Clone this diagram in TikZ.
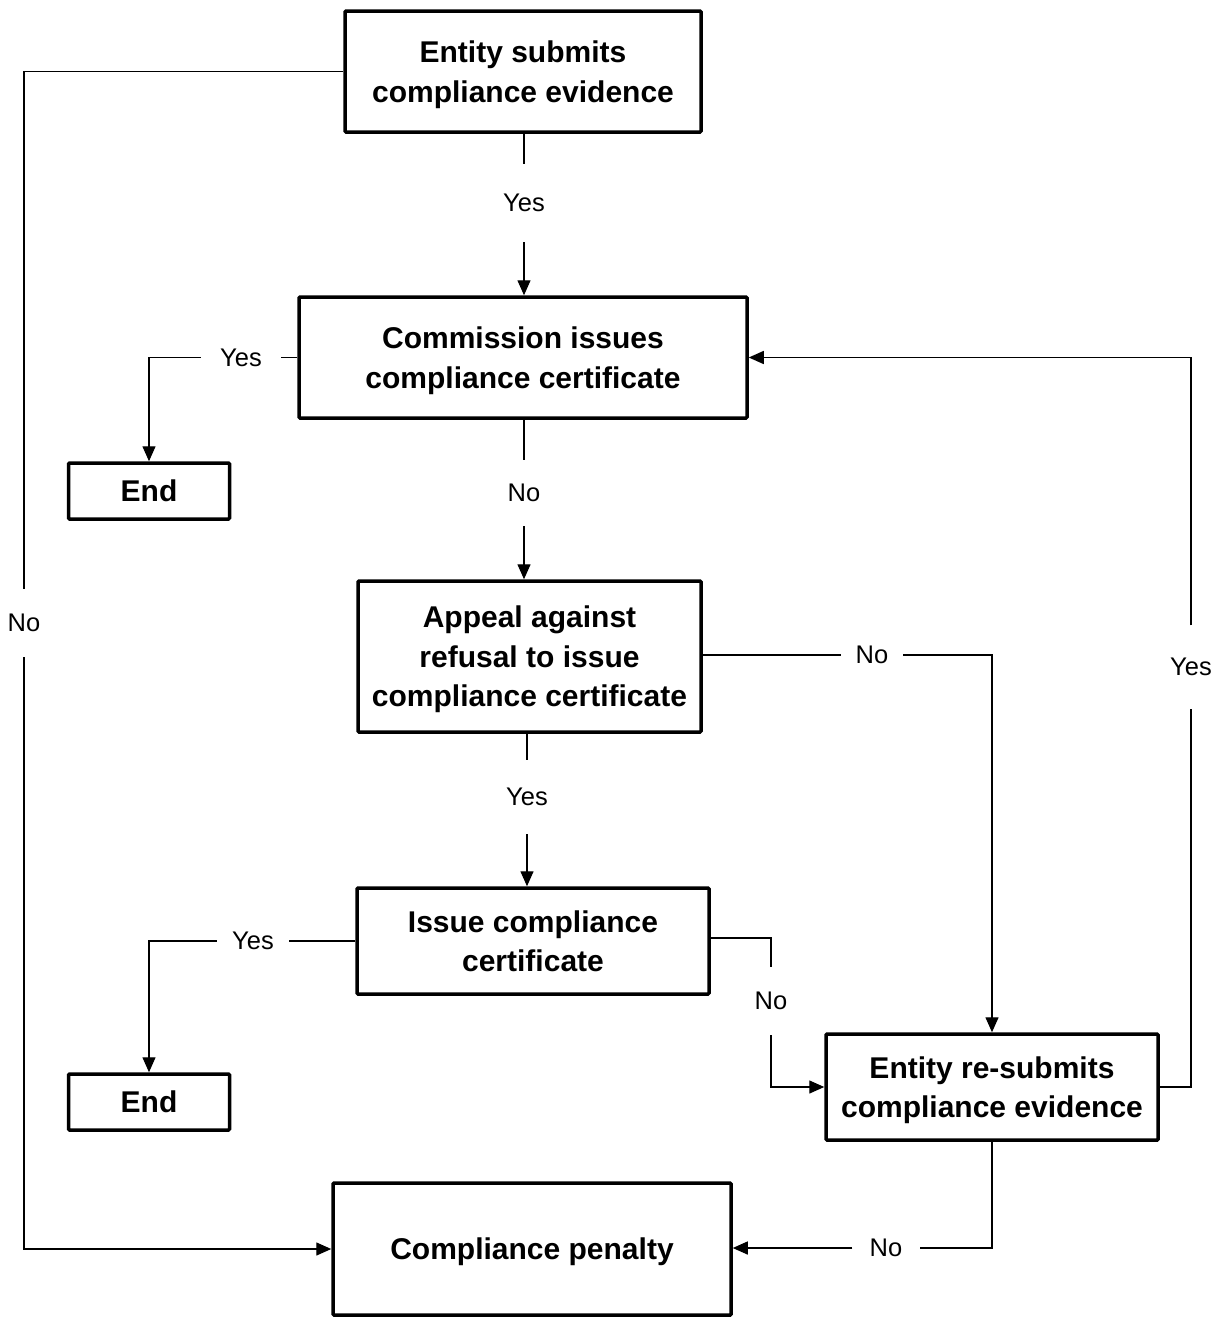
\documentclass[tikz,border=0pt]{standalone}
\usepackage{fontspec}
\setmainfont{Liberation Sans}
\usetikzlibrary{arrows.meta}
\begin{document}
\begin{tikzpicture}[x=1pt,y=-1pt,
  box/.style={draw, line width=3.5pt, rounded corners=1pt, align=center,
    font=\fontsize{30}{39.5}\selectfont\bfseries, inner sep=0pt, text depth=0pt},
  conn/.style={line width=1.4pt},
  arr/.style={conn, -{Triangle[length=15pt,width=13pt]}},
  lbl/.style={font=\fontsize{25.5}{30}\selectfont, inner sep=0pt},
  vlbl/.style={lbl, minimum height=72pt},
  hlbl/.style={lbl, minimum width=72pt}]
\useasboundingbox (0,0) rectangle (1228,1317);

% boxes
\node[box, minimum width=356pt, minimum height=121pt] (e1) at (523,71.5) {Entity submits\\compliance evidence};
\node[box, minimum width=448pt, minimum height=121pt] (c2) at (523,357.5) {Commission issues\\compliance certificate};
\node[box, minimum width=161pt, minimum height=56pt] (end1) at (149,491) {End};
\node[box, minimum width=343pt, minimum height=151pt] (ap) at (529.5,656.5) {Appeal against\\refusal to issue\\compliance certificate};
\node[box, minimum width=352pt, minimum height=106pt] (is) at (533,941) {Issue compliance\\certificate};
\node[box, minimum width=161pt, minimum height=56pt] (end2) at (149,1102) {End};
\node[box, minimum width=332pt, minimum height=106pt] (rs) at (992,1087) {Entity re-submits\\compliance evidence};
\node[box, minimum width=398pt, minimum height=132pt] (pen) at (532,1249) {Compliance penalty};

% labels
\node[vlbl, minimum height=78pt] (y1) at (524,203) {Yes};
\node[hlbl, minimum width=80pt] (y2) at (241,357.5) {Yes};
\node[vlbl, minimum height=66pt] (n1) at (524,493) {No};
\node[vlbl, minimum height=74pt] (y3) at (527,797) {Yes};
\node[hlbl, minimum width=62pt] (n2) at (872,655) {No};
\node[hlbl, minimum width=72pt] (y4) at (253,941) {Yes};
\node[vlbl, minimum height=68pt] (n3) at (771,1001) {No};
\node[vlbl, minimum height=83pt] (y5) at (1191,667) {Yes};
\node[hlbl, minimum width=67pt] (n4) at (886,1248) {No};
\node[vlbl, minimum height=68pt] (n5) at (24,623) {No};

% connectors
\draw[conn] (e1.south -| y1.north) -- (y1.north);
\draw[arr] (y1.south) -- (y1.south |- c2.north);

\draw[conn] (c2.west) -- (y2.east);
\draw[arr] (y2.west) -| (end1.north);

\draw[conn] (c2.south -| n1.north) -- (n1.north);
\draw[arr] (n1.south) -- (n1.south |- ap.north);

\draw[conn] (ap.south -| y3.north) -- (y3.north);
\draw[arr] (y3.south) -- (y3.south |- is.north);

\draw[conn] (ap.east |- n2.west) -- (n2.west);
\draw[arr] (n2.east) -| (rs.north);

\draw[conn] (is.west |- y4.east) -- (y4.east);
\draw[arr] (y4.west) -| (end2.north);

\draw[conn] (is.east |- 0,938) -| (n3.north);
\draw[arr] (n3.south) |- (rs.west);

\draw[conn] (rs.east) -| (y5.south);
\draw[arr] (y5.north) |- (c2.east);

\draw[conn] (rs.south) |- (n4.east);
\draw[arr] (n4.west) -- (n4.west -| pen.east);

\draw[conn] (e1.west) -| (n5.north);
\draw[arr] (n5.south) |- (pen.west);
\end{tikzpicture}
\end{document}
